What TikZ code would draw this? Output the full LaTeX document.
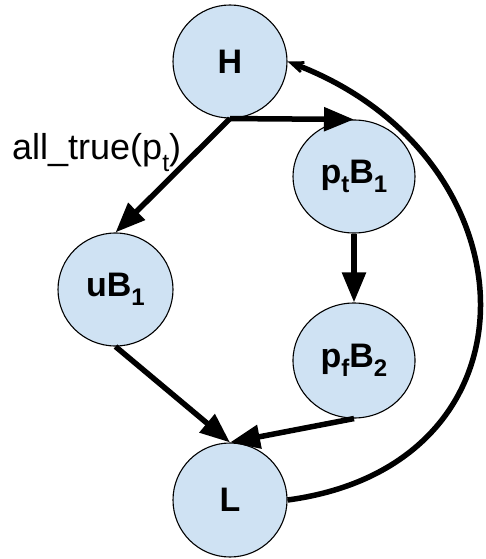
\documentclass[tikz,border=0pt]{standalone}
\usepackage{fontspec}
\setmainfont{Liberation Sans}
\usetikzlibrary{arrows.meta,shapes.geometric,calc}
\definecolor{nodefill}{HTML}{CFE2F3}
\newcommand\subn[1]{\raisebox{-9pt}{\fontsize{24}{24}\selectfont #1}}
\newcommand\subl[1]{\raisebox{-12pt}{\fontsize{25}{25}\selectfont #1}}
\begin{document}
\begin{tikzpicture}[x=1pt,y=-1pt,
  state/.style={ellipse,draw=black,line width=1.1pt,fill=nodefill,inner sep=0pt,
    font=\fontsize{34}{36}\selectfont\bfseries},
  edge/.style={line width=5.5pt,-{Triangle[length=30pt,width=23pt]}},
  backedge/.style={line width=5.5pt,-{Stealth[length=30pt,width=24pt,inset=20pt]}},
  lbl/.style={font=\fontsize{36}{40}\selectfont}]
\useasboundingbox (0,0) rectangle (486,559);
\node[state,minimum width=114pt,minimum height=113pt] (H) at (230,61.5) {H};
\node[state,minimum width=122pt,minimum height=113pt] (ptB1) at (354,176.5) {p\subn{t}B\subn{1}};
\node[state,minimum width=115pt,minimum height=113pt] (uB1) at (115.5,289.5) {uB\subn{1}};
\node[state,minimum width=122pt,minimum height=115pt] (pfB2) at (354,360.5) {p\subn{f}B\subn{2}};
\node[state,minimum width=114pt,minimum height=114pt] (L) at (230,500) {L};
\node[lbl,anchor=base west,inner sep=0pt] (cond) at (12,159) {all\_true(p\subl{t})};
\draw[edge] (H.south) -- (ptB1.north);
\draw[edge] (H.south) -- (uB1.north);
\draw[edge] (ptB1.south) -- (pfB2.north);
\draw[edge] (uB1.south) -- (L.north);
\draw[edge] (pfB2.south) -- (L.north);
\draw[backedge] (L.east) .. controls ($(L.east)+(262,-35)$) and ($(H.east)+(250,95)$) .. (H.east);
\end{tikzpicture}
\end{document}
